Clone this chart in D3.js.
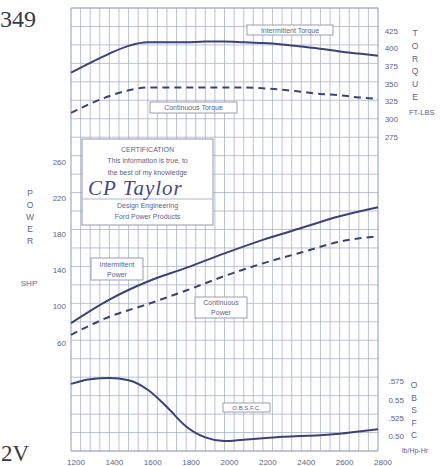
<!DOCTYPE html>
<html>
<head>
<meta charset="utf-8">
<script src="https://cdn.jsdelivr.net/npm/d3@7"></script>
<style>
body{margin:0;background:#fff;overflow:hidden;}
svg text{font-family:"Liberation Sans",Arial,sans-serif;fill:#5d648a;}
</style>
</head>
<body>
<div id="vis-div"></div>
<script>
'use strict'

// engine speed (rpm) for torque and bsfc readings
const rpm = [1200,1300,1400,1500,1600,1700,1800,1900,2000,2100,2200,2300,2400,2500,2600,2700,2800]
const torqueIntermittent = [366,380,393,404,409,409,409,410,410,409,408,406,403,400,396,393,390]
const torqueContinuous = [309,322,333,341,345,345,345,345,345,345,344,342,339,336,334,331,329]
const bsfc = [0.572,0.5785,0.580,0.577,0.564,0.5405,0.514,0.499,0.494,0.496,0.498,0.500,0.501,0.502,0.504,0.507,0.510]

// power readings every 200 rpm
const rpmPower = [1200,1400,1600,1800,2000,2200,2400,2600,2800]
const powerIntermittent = [82,108,128,143,159,174,187,200,210]
const powerContinuous = [69,89,103,118,134,148,160,172,178]

const rpmTicks = [1200,1400,1600,1800,2000,2200,2400,2600,2800]
const torqueTicks = [425,400,375,350,325,300,275]
const powerTicks = [260,220,180,140,100,60]
const bsfcTicks = [0.575,0.55,0.525,0.50]
const bsfcTickLabels = [".575","0.55",".525","0.50"]


function wrapper(){

	let width = 443
	let height = 466
	let ink = "#3b4276"
	let gridColor = "#aab2c9"

	let svg = d3.select("#vis-div").append("svg")
		.attr("width", width)
		.attr("height", height)

	let x = d3.scaleLinear().domain([1200, 2800]).range([71, 378])
	let yT = d3.scaleLinear().domain([275, 425]).range([137, 31])
	let yP = d3.scaleLinear().domain([60, 260]).range([343, 162])
	let yB = d3.scaleLinear().domain([0.50, 0.575]).range([436.7, 381.7])
	let gridY = d3.scaleLinear().domain([0, 24]).range([8, 451])

	// grid
	let grid = svg.append("g").attr("class", "grid")
	grid.selectAll("line.v").data(d3.range(1200, 2801, 50)).enter()
		.append("line")
		.attr("x1", d => x(d)).attr("x2", d => x(d))
		.attr("y1", gridY(0)).attr("y2", gridY(24))
		.style("stroke", gridColor)
		.style("stroke-width", d => (d == 1200 || d == 2800) ? 1.3 : 0.8)
	grid.selectAll("line.h").data(d3.range(0, 25)).enter()
		.append("line")
		.attr("x1", x(1200)).attr("x2", x(2800))
		.attr("y1", d => gridY(d)).attr("y2", d => gridY(d))
		.style("stroke", gridColor)
		.style("stroke-width", d => (d == 0 || d == 24) ? 1.3 : 0.8)

	let line = function(xs, ys, yScale){
		return d3.line()
			.x((d, i) => x(xs[i]))
			.y(d => yScale(d))
			.curve(d3.curveMonotoneX)(ys)
	}

	function addCurve(xs, ys, yScale, dashed){
		svg.append("path")
			.attr("d", line(xs, ys, yScale))
			.style("fill", "none")
			.style("stroke", ink)
			.style("stroke-width", 2)
			.style("stroke-dasharray", dashed ? "7,5" : null)
	}

	addCurve(rpm, torqueIntermittent, yT, false)
	addCurve(rpm, torqueContinuous, yT, true)
	addCurve(rpmPower, powerIntermittent, yP, false)
	addCurve(rpmPower, powerContinuous, yP, true)
	addCurve(rpm, bsfc, yB, false)

	// boxed labels
	function box(cx, cy, w, h, lines, size){
		let g = svg.append("g")
		g.append("rect")
			.attr("x", cx - w / 2).attr("y", cy - h / 2)
			.attr("width", w).attr("height", h)
			.style("fill", "#fff")
			.style("stroke", "#8f96b0")
			.style("stroke-width", 0.9)
		lines.forEach(function(t, i){
			g.append("text")
				.attr("x", cx)
				.attr("y", cy + (i - (lines.length - 1) / 2) * (size + 3))
				.attr("text-anchor", "middle")
				.attr("dominant-baseline", "central")
				.style("font-size", size + "px")
				.text(t)
		})
		return g
	}

	box(290, 30, 86, 10, ["Intermittent Torque"], 7)
	box(193.5, 107.5, 87, 11, ["Continuous Torque"], 7)
	box(117, 269, 52, 22, ["Intermittent", "Power"], 7)
	box(221, 307.5, 52, 21, ["Continuous", "Power"], 7)
	box(246.5, 407.5, 47, 9, ["O.B.S.F.C."], 6)

	// certification
	let cert = svg.append("g")
	cert.append("rect")
		.attr("x", 82).attr("y", 139).attr("width", 131).attr("height", 86)
		.style("fill", "#fff").style("stroke", "#8f96b0").style("stroke-width", 1)
	let certText = [["CERTIFICATION", 149], ["This information is true, to", 160.5], ["the best of my knowledge", 172],
		["Design Engineering", 205.5], ["Ford Power Products", 216.5]]
	certText.forEach(function(c){
		cert.append("text")
			.attr("x", 147.5).attr("y", c[1])
			.attr("text-anchor", "middle")
			.attr("dominant-baseline", "central")
			.style("font-size", "7px")
			.text(c[0])
	})
	cert.append("line")
		.attr("x1", 83).attr("x2", 212).attr("y1", 199).attr("y2", 199)
		.style("stroke", "#9aa2bd").style("stroke-width", 0.8)
	cert.append("text")
		.attr("x", 88).attr("y", 195)
		.style("font-family", "'Liberation Serif', serif")
		.style("font-style", "italic")
		.style("font-size", "21px")
		.style("letter-spacing", "1px")
		.style("fill", "#434a7c")
		.text("CP Taylor")

	// bottom axis labels
	svg.selectAll("text.xt").data(rpmTicks).enter()
		.append("text")
		.attr("x", d => x(d) + 5)
		.attr("y", 462)
		.attr("text-anchor", "middle")
		.attr("dominant-baseline", "central")
		.style("font-size", "8px")
		.text(d => d)

	// torque axis
	svg.selectAll("text.tt").data(torqueTicks).enter()
		.append("text")
		.attr("x", 398).attr("y", d => yT(d))
		.attr("text-anchor", "end")
		.attr("dominant-baseline", "central")
		.style("font-size", "8px")
		.text(d => d)
	"TORQUE".split("").forEach(function(ch, i){
		svg.append("text")
			.attr("x", 415).attr("y", 33 + i * 12.8)
			.attr("text-anchor", "middle")
			.attr("dominant-baseline", "central")
			.style("font-size", "8.5px")
			.text(ch)
	})
	svg.append("text")
		.attr("x", 409).attr("y", 112)
		.attr("dominant-baseline", "central")
		.style("font-size", "7.5px")
		.text("FT-LBS")

	// power axis
	svg.selectAll("text.pt").data(powerTicks).enter()
		.append("text")
		.attr("x", 66).attr("y", d => yP(d))
		.attr("text-anchor", "end")
		.attr("dominant-baseline", "central")
		.style("font-size", "8px")
		.text(d => d)
	"POWER".split("").forEach(function(ch, i){
		svg.append("text")
			.attr("x", 30).attr("y", 193 + i * 12)
			.attr("text-anchor", "middle")
			.attr("dominant-baseline", "central")
			.style("font-size", "8.5px")
			.text(ch)
	})
	svg.append("text")
		.attr("x", 29).attr("y", 283)
		.attr("text-anchor", "middle")
		.attr("dominant-baseline", "central")
		.style("font-size", "8px")
		.text("SHP")

	// bsfc axis
	svg.selectAll("text.bt").data(bsfcTicks).enter()
		.append("text")
		.attr("x", 404).attr("y", d => yB(d))
		.attr("text-anchor", "end")
		.attr("dominant-baseline", "central")
		.style("font-size", "8px")
		.text((d, i) => bsfcTickLabels[i])
	"OBSFC".split("").forEach(function(ch, i){
		svg.append("text")
			.attr("x", 414).attr("y", 385 + i * 12.5)
			.attr("text-anchor", "middle")
			.attr("dominant-baseline", "central")
			.style("font-size", "8.5px")
			.text(ch)
	})
	svg.append("text")
		.attr("x", 402).attr("y", 450)
		.attr("dominant-baseline", "central")
		.style("font-size", "7px")
		.text("lb/Hp-Hr")

	// model marks
	svg.append("text")
		.attr("x", 0).attr("y", 27)
		.style("font-family", "'Liberation Serif', serif")
		.style("font-size", "24px")
		.style("fill", "#3a3a44")
		.text("349")
	svg.append("text")
		.attr("x", 1).attr("y", 461)
		.style("font-family", "'Liberation Serif', serif")
		.style("font-size", "23px")
		.style("fill", "#3a3a44")
		.text("2V")

}//wrapper

wrapper();
</script>
</body>
</html>
